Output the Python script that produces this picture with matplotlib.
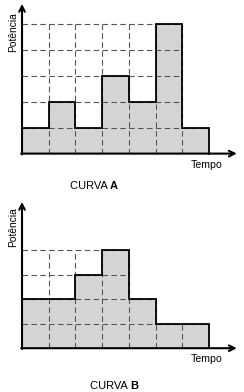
import numpy as np
import matplotlib.pyplot as plt

plt.rcParams['font.family'] = ['Liberation Sans', 'DejaVu Sans']

# valores das curvas (potência por intervalo de tempo)
curva_a = [1, 2, 1, 3, 2, 5, 1]
curva_b = [2, 2, 3, 4, 2, 1, 1]
# altura até onde vai a grade tracejada em cada coluna
grade_a = [5, 5, 5, 5, 5, 5, 1]
grade_b = [4, 4, 4, 4, 2, 1, 1]
nomes = ['A', 'B']

fig = plt.figure(figsize=(2.44, 3.92), dpi=100)


def desenha(ax, h, g, nome, ylim, xlim, ytop, pos_curva, pos_pot):
    n = len(h)
    x = np.arange(n)
    ax.bar(x, h, width=1, align='edge', color='#d4d4d4', edgecolor='none', zorder=1)

    # grade tracejada
    for k in range(1, max(g) + 1):
        cols = [i for i in range(n) if g[i] >= k]
        ax.plot([0, max(cols) + 1], [k, k], color='#555555', lw=0.8,
                dashes=(5, 3), zorder=2)
    for k in range(1, n):
        ax.plot([k, k], [0, max(g[k - 1], g[k])], color='#555555', lw=0.8,
                dashes=(5, 3), zorder=2)

    # contorno das barras
    xs = [0]
    ys = [0]
    for i in range(n):
        xs += [i, i + 1]
        ys += [h[i], h[i]]
    xs += [n]
    ys += [0]
    ax.plot(xs, ys, color='black', lw=1.3, zorder=3, solid_joinstyle='miter')

    # eixos com setas
    ax.annotate('', xy=(xlim[1] - 0.27, 0), xytext=(-0.03, 0),
                arrowprops=dict(arrowstyle='->', lw=1.5, color='black',
                                shrinkA=0, shrinkB=0, mutation_scale=10), zorder=4)
    ax.annotate('', xy=(0, ytop), xytext=(0, -0.03),
                arrowprops=dict(arrowstyle='->', lw=1.5, color='black',
                                shrinkA=0, shrinkB=0, mutation_scale=10), zorder=4)

    ax.text(6.9, -0.45, 'Tempo', fontsize=7.6, ha='center', va='center')
    ax.text(-0.34, pos_pot, 'Potência', fontsize=7.4, rotation=90,
            ha='center', va='center')
    t1 = ax.text(pos_curva[0], pos_curva[1], 'CURVA ', fontsize=8,
                 ha='right', va='center')
    ax.annotate(nome, xy=(1, 0), xycoords=t1, va='bottom', ha='left',
                fontsize=8, fontweight='bold')

    ax.set_xlim(*xlim)
    ax.set_ylim(*ylim)
    ax.axis('off')


ax1 = fig.add_axes([0, 195 / 392, 1, 197 / 392])
desenha(ax1, curva_a, grade_a, nomes[0], (-1.67, 5.91), (-0.824, 8.31), 5.76,
        (3.3, -1.25), 4.67)

ax2 = fig.add_axes([0, 0, 1, 195 / 392])
desenha(ax2, curva_b, grade_b, nomes[1], (-1.79, 6.18), (-0.824, 8.31), 5.98,
        (4.05, -1.54), 4.93)

fig.savefig('out.png', dpi=100)
